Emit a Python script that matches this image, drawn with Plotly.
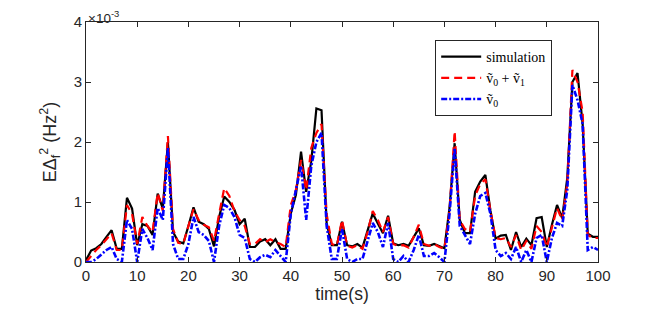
import plotly.graph_objects as go

# time axis (s)
time_s = list(range(0, 101))

# values in units of 1e-3 Hz^2
simulation = [
    0.03, 0.19, 0.23, 0.30, 0.42, 0.53, 0.22, 0.22, 1.07, 0.89,
    0.28, 0.63, 0.60, 0.45, 1.14, 0.89, 2.00, 0.50, 0.34, 0.31,
    0.60, 0.91, 0.67, 0.63, 0.55, 0.26, 0.75, 1.09, 1.00, 0.87,
    0.63, 0.72, 0.25, 0.25, 0.34, 0.38, 0.28, 0.38, 0.22, 0.22,
    0.81, 1.12, 1.84, 1.17, 1.68, 2.56, 2.53, 0.65, 0.28, 0.28,
    0.67, 0.28, 0.26, 0.30, 0.24, 0.53, 0.81, 0.64, 0.48, 0.77,
    0.31, 0.28, 0.30, 0.27, 0.42, 0.56, 0.28, 0.27, 0.30, 0.26,
    0.23, 0.90, 1.98, 0.70, 0.48, 0.48, 1.17, 1.34, 1.45, 0.85,
    0.39, 0.44, 0.45, 0.20, 0.50, 0.25, 0.39, 0.28, 0.73, 0.75,
    0.25, 0.62, 0.95, 0.73, 1.40, 3.00, 3.15, 2.30, 0.47, 0.42,
    0.42,
]
v0_plus_v1 = [
    0.00, 0.10, 0.20, 0.28, 0.38, 0.48, 0.20, 0.20, 0.95, 0.80,
    0.30, 0.75, 0.60, 0.50, 1.15, 0.85, 2.10, 0.55, 0.32, 0.30,
    0.60, 0.88, 0.70, 0.62, 0.58, 0.35, 0.80, 1.23, 1.10, 0.85,
    0.70, 0.60, 0.30, 0.30, 0.38, 0.33, 0.38, 0.33, 0.30, 0.25,
    0.95, 1.20, 1.70, 1.20, 1.90, 2.15, 2.30, 0.80, 0.30, 0.27,
    0.70, 0.27, 0.24, 0.28, 0.22, 0.50, 0.85, 0.70, 0.50, 0.75,
    0.30, 0.27, 0.28, 0.24, 0.42, 0.62, 0.30, 0.27, 0.30, 0.25,
    0.22, 0.85, 2.18, 0.70, 0.55, 0.50, 1.10, 1.30, 1.38, 0.85,
    0.40, 0.38, 0.40, 0.25, 0.45, 0.20, 0.35, 0.22, 0.60, 0.50,
    0.25, 0.60, 0.90, 0.70, 1.30, 3.20, 3.00, 2.50, 0.45, 0.40,
    0.40,
]
v0 = [
    0.00, 0.00, 0.05, 0.12, 0.20, 0.25, 0.05, 0.00, 0.70, 0.55,
    0.00, 0.55, 0.40, 0.20, 0.90, 0.70, 1.90, 0.30, 0.05, 0.05,
    0.30, 0.75, 0.50, 0.45, 0.35, 0.00, 0.60, 0.95, 0.90, 0.75,
    0.45, 0.40, 0.05, 0.00, 0.08, 0.12, 0.08, 0.20, 0.10, 0.00,
    0.80, 1.20, 1.60, 0.70, 1.60, 2.00, 2.15, 0.60, 0.05, 0.05,
    0.55, 0.05, 0.00, 0.05, 0.05, 0.35, 0.65, 0.50, 0.25, 0.65,
    0.05, 0.00, 0.10, 0.00, 0.20, 0.45, 0.10, 0.10, 0.15, 0.08,
    0.00, 0.80, 1.90, 0.60, 0.45, 0.30, 0.80, 1.10, 1.15, 0.80,
    0.20, 0.10, 0.15, 0.05, 0.25, 0.00, 0.20, 0.00, 0.40, 0.45,
    0.00, 0.40, 0.65, 0.60, 1.20, 2.95, 2.70, 2.30, 0.20, 0.25,
    0.20,
]
scale = 1e-3

x_ticks = list(range(0, 101, 10))
y_tick_vals = [0, 1, 2, 3, 4]
y_tick_text = ["0", "1", "2", "3", "4"]

fig = go.Figure()
fig.add_trace(go.Scatter(
    x=time_s, y=[v * scale for v in simulation], mode="lines",
    name="simulation", line=dict(color="black", width=2.2),
))
fig.add_trace(go.Scatter(
    x=time_s, y=[v * scale for v in v0_plus_v1], mode="lines",
    name="ṽ<sub>0</sub> + ṽ<sub>1</sub>",
    line=dict(color="#ff0000", width=2.2, dash="8px,5px"),
))
fig.add_trace(go.Scatter(
    x=time_s, y=[v * scale for v in v0], mode="lines",
    name="ṽ<sub>0</sub>",
    line=dict(color="#0000ff", width=2.6, dash="6px,2px,2px,2px"),
))

axis_color = "#262626"
# the page body adds an 8px offset, so the figure is 8px smaller and margins are shifted
fig.update_layout(
    width=656, height=307,
    margin=dict(l=78, r=66, t=14, b=53, autoexpand=False),
    paper_bgcolor="white", plot_bgcolor="white",
    font=dict(family="Liberation Sans, Arial, sans-serif", size=15, color=axis_color),
    showlegend=True,
    legend=dict(
        x=0.682, y=0.925, xanchor="left", yanchor="top",
        bgcolor="white", bordercolor=axis_color, borderwidth=1,
        font=dict(family="Liberation Serif, DejaVu Serif, serif", size=14, color="black"),
        tracegroupgap=0, itemwidth=40,
    ),
    xaxis=dict(
        range=[0, 100], tickvals=x_ticks, ticks="inside", ticklen=5,
        showline=True, linecolor=axis_color, linewidth=1, mirror="ticks",
        tickcolor=axis_color, showgrid=False, zeroline=False, automargin=False,
        title=dict(text="time(s)", font=dict(size=17.5), standoff=4),
        tickfont=dict(size=15),
    ),
    yaxis=dict(
        range=[0, 4 * scale], tickvals=[v * scale for v in y_tick_vals],
        ticktext=y_tick_text, ticks="inside", ticklen=5,
        showline=True, linecolor=axis_color, linewidth=1, mirror="ticks",
        tickcolor=axis_color, showgrid=False, zeroline=False, automargin=True,
        title=dict(text="EΔ<sub>f</sub><sup>2</sup> (Hz<sup>2</sup>)", font=dict(size=18), standoff=12),
        tickfont=dict(size=15),
    ),
    annotations=[dict(
        text="×10<sup>-3</sup>", xref="paper", yref="paper", x=0, y=1,
        xanchor="left", yanchor="bottom", showarrow=False,
        font=dict(size=13.5, color=axis_color), yshift=-6,
    )],
)

fig.write_html("out.html")
